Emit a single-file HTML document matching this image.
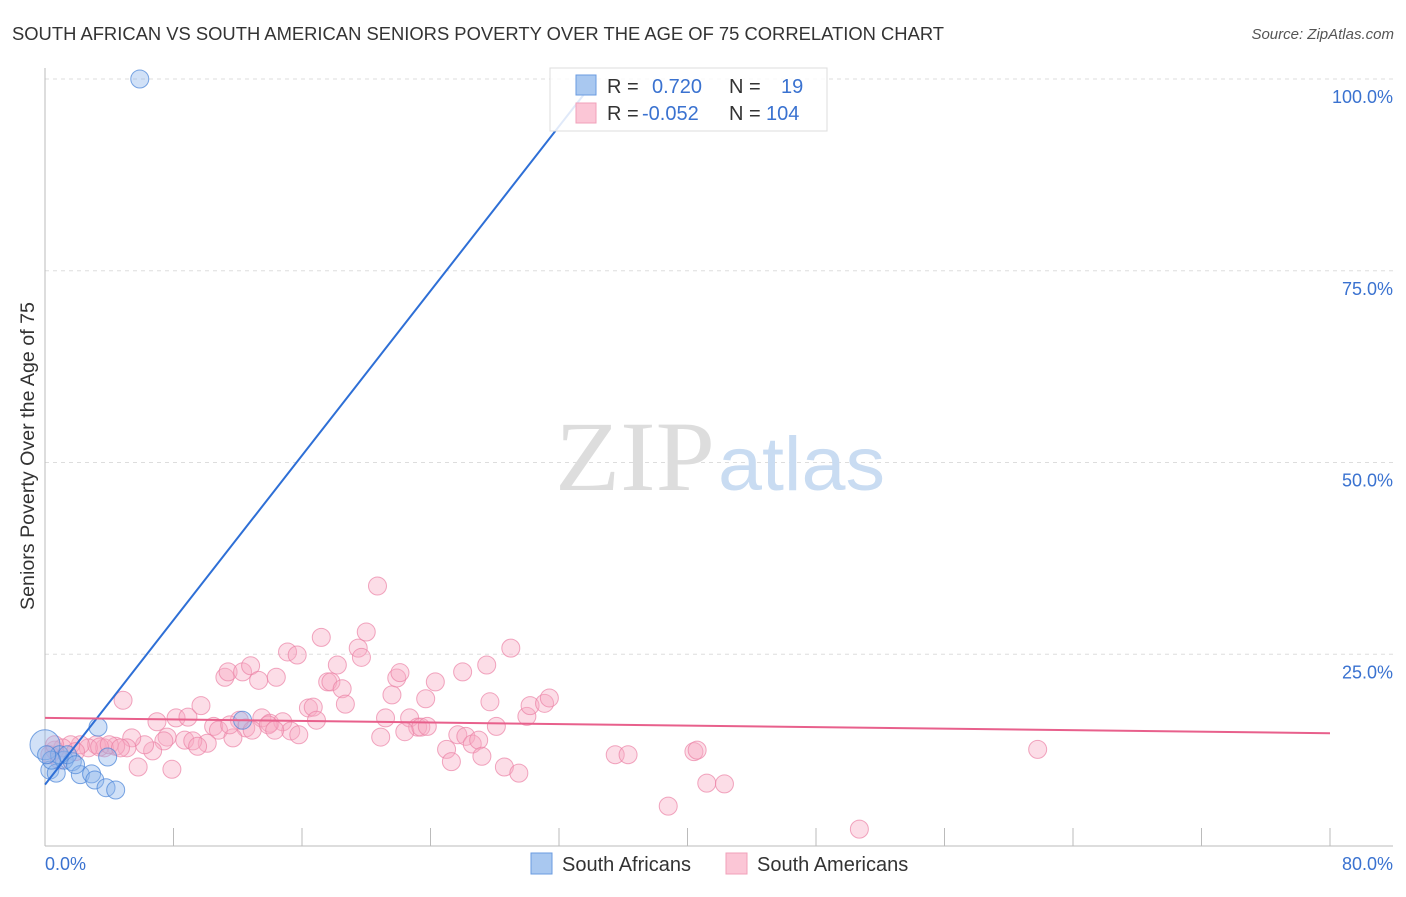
<!DOCTYPE html>
<html><head><meta charset="utf-8"><style>
body{margin:0;background:#fff;font-family:"Liberation Sans",sans-serif}
</style></head><body>
<svg width="1406" height="892" xmlns="http://www.w3.org/2000/svg">
<text x="12" y="40" font-size="18" fill="#333" textLength="932" lengthAdjust="spacingAndGlyphs">SOUTH AFRICAN VS SOUTH AMERICAN SENIORS POVERTY OVER THE AGE OF 75 CORRELATION CHART</text>
<text x="1394" y="39" font-size="15" fill="#555" font-style="italic" text-anchor="end">Source: ZipAtlas.com</text>
<g id="grid"></g>
<text x="555" y="490" font-size="100" fill="#ddd" textLength="160" lengthAdjust="spacingAndGlyphs" font-family="Liberation Serif">ZIP</text>
<text x="718" y="490" font-size="76" fill="#c9dcf2" textLength="167" lengthAdjust="spacingAndGlyphs">atlas</text>
<g id="pts"></g>
<g id="lines"></g>
<text transform="translate(34,456) rotate(-90)" font-size="19" fill="#333" text-anchor="middle" textLength="308" lengthAdjust="spacingAndGlyphs">Seniors Poverty Over the Age of 75</text>
<text x="45" y="870" font-size="18" fill="#3a72d0">0.0%</text>
<text x="1393" y="870" font-size="18" fill="#3a72d0" text-anchor="end">80.0%</text>
<g>
<rect x="550" y="68" width="277" height="63" fill="rgba(255,255,255,0.85)" stroke="#ddd"/>
<rect x="576" y="75" width="20" height="20" fill="#a9c8f0" stroke="#6a9be0"/>
<rect x="576" y="103" width="20" height="20" fill="#fbc6d6" stroke="#f0a0ba"/>
<text x="607" y="93" font-size="20" fill="#333">R = <tspan fill="#3a72d0" x="652">0.720</tspan><tspan x="729" fill="#333">N =</tspan><tspan x="781" fill="#3a72d0">19</tspan></text>
<text x="607" y="120" font-size="20" fill="#333">R = <tspan fill="#3a72d0" x="642">-0.052</tspan><tspan x="729" fill="#333">N =</tspan><tspan x="766" fill="#3a72d0">104</tspan></text>
</g>
<g>
<rect x="531" y="853" width="21" height="21" fill="#a9c8f0" stroke="#6a9be0"/>
<text x="562" y="871" font-size="20" fill="#333">South Africans</text>
<rect x="726" y="853" width="21" height="21" fill="#fbc6d6" stroke="#f0a0ba"/>
<text x="757" y="871" font-size="20" fill="#333">South Americans</text>
</g>
</svg>
<script>
const yTicks=[25,50,75,100];
const yTickLabels=["25.0%","50.0%","75.0%","100.0%"];
const xTicks=[0,8,16,24,32,40,48,56,64,72,80];
const pinkX=[4.86,6.97,8.16,8.9,9.71,11.2,11.4,12.3,12.8,13.3,14.4,15.1,15.7,17.2,17.6,17.8,18.2,18.5,18.7,19.5,19.7,20.0,20.7,21.2,21.6,21.9,22.1,22.7,23.2,23.7,24.3,26.0,27.5,27.7,28.1,29.0,30.0,30.2,31.1,31.4,16.4,16.7,16.9,13.5,14.0,14.8,12.5,12.1,10.5,10.8,10.1,8.7,9.2,9.5,7.6,7.4,6.7,6.2,5.4,5.1,4.4,3.7,3.2,2.7,2.2,1.6,1.1,0.6,0.3,5.8,7.9,11.7,12.9,13.9,15.3,15.8,20.9,22.4,23.4,23.8,25.0,25.3,25.7,26.2,26.6,27.0,27.2,28.6,29.5,35.5,36.3,40.4,40.6,41.2,42.3,38.8,50.7,61.8,0.6,0.9,1.9,3.4,4.0,4.7,11.5,14.3];
const pinkY=[19.0,16.2,16.7,16.8,18.3,22.0,22.7,22.7,23.5,21.6,22.0,25.3,24.9,27.2,21.4,21.4,23.6,20.5,18.5,25.8,24.6,27.9,33.9,16.7,19.7,21.9,22.6,16.7,15.5,19.2,21.4,22.7,23.6,18.8,15.6,25.8,16.9,18.3,18.6,19.3,18.0,18.1,16.4,16.7,16.0,16.2,15.4,16.4,15.6,15.1,13.4,13.8,13.7,13.0,14.2,13.7,12.4,13.2,14.1,12.8,13.0,12.8,13.2,12.8,13.2,13.2,12.8,12.5,11.9,10.3,10.0,14.1,15.1,15.8,15.0,14.5,14.2,14.9,15.5,15.6,12.6,11.0,14.5,14.3,13.3,13.8,11.7,10.3,9.5,11.9,11.9,12.3,12.5,8.2,8.1,5.2,2.2,12.6,13.2,11.2,12.3,12.9,13.2,12.8,15.8,15.1];
const blueX=[5.9,12.3,3.3,3.9,0,0.3,0.7,1.2,1.7,2.2,2.9,3.1,3.8,4.4,0.9,1.4,1.9,0.4,0.1];
const blueY=[100,16.4,15.5,11.6,13.2,9.9,9.5,11.2,11.0,9.3,9.4,8.6,7.6,7.3,11.9,11.9,10.6,11.2,11.9];
const blueTrend=[[0,8.0],[34.3,100]];
const pinkTrend=[[0,16.7],[80,14.7]];
const NS="http://www.w3.org/2000/svg";
const X=v=>45+v*(1285/80), Y=v=>846-v*7.67;
function mk(t,a,p){const e=document.createElementNS(NS,t);for(const k in a)e.setAttribute(k,a[k]);p.appendChild(e);return e;}
const g=document.getElementById('grid');
yTicks.forEach((v,i)=>{
 const l=mk('line',{x1:45,x2:1393,y1:Y(v),y2:Y(v),stroke:'#ddd','stroke-dasharray':'4,4'},g);
 
 
 const t=mk('text',{x:1393,y:Y(v)+24,'font-size':18,fill:'#3a72d0','text-anchor':'end'},g);
 t.textContent=yTickLabels[i];
 
 
});
const ax=mk('line',{x1:45,x2:1393,y1:846,y2:846,stroke:'#bbb'},g);


const ay=mk('line',{x1:45,x2:45,y1:68,y2:846,stroke:'#bbb'},g);


xTicks.forEach(v=>{const t=mk('line',{x1:X(v),x2:X(v),y1:828,y2:846,stroke:'#bbb'},g);
 
 });
const p=document.getElementById('pts');
pinkX.forEach((x,i)=>{const c=mk('circle',{cx:X(x),cy:Y(pinkY[i]),r:9,fill:'rgba(248,170,195,0.4)',stroke:'rgba(235,130,165,0.7)','stroke-width':1},p);
 
 });
blueX.forEach((x,i)=>{const c=mk('circle',{cx:X(x),cy:Y(blueY[i]),r:i==4?15:9,fill:'rgba(140,180,235,0.4)',stroke:'rgba(70,130,215,0.7)','stroke-width':1},p);
 
 });
const L=document.getElementById('lines');
const bl=mk('line',{x1:X(blueTrend[0][0]),y1:Y(blueTrend[0][1]),x2:X(blueTrend[1][0]),y2:Y(blueTrend[1][1]),stroke:'#2e6fd6','stroke-width':2},L);


const pl=mk('line',{x1:X(pinkTrend[0][0]),y1:Y(pinkTrend[0][1]),x2:X(pinkTrend[1][0]),y2:Y(pinkTrend[1][1]),stroke:'#e8608c','stroke-width':2},L);


</script>
</body></html>
